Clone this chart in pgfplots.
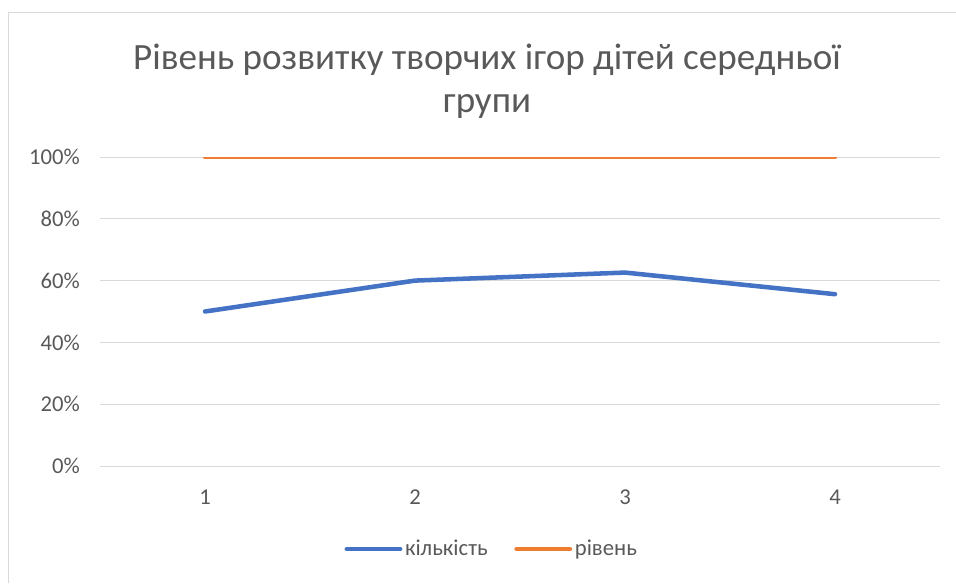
\documentclass[border=0pt]{standalone}
\usepackage{fontspec}
\setmainfont{Carlito}
\usepackage{pgfplots}
\pgfplotsset{compat=1.18}
\definecolor{cblue}{HTML}{4472C4}
\definecolor{corange}{HTML}{ED7D31}
\definecolor{cgrid}{HTML}{D9D9D9}
\definecolor{ctext}{HTML}{595959}
\begin{document}
\begin{tikzpicture}
\useasboundingbox (0,0) rectangle (717pt,437.25pt);
\draw[cgrid, line width=0.75pt] (6pt,0) -- (6pt,427.5pt) -- (717pt,427.5pt);
\node[align=center, font=\fontsize{27.8pt}{32pt}\selectfont, text=ctext, inner sep=0pt] at (365.25pt,376.1pt)
  {Рівень розвитку творчих ігор дітей середньої\\групи};
\begin{axis}[
  at={(75pt,87.75pt)}, anchor=south west,
  scale only axis, width=630pt, height=231.75pt,
  xmin=0.5, xmax=4.5, ymin=0, ymax=100,
  axis line style={draw=none},
  xtick={1,2,3,4}, xticklabels={1,2,3,4},
  ytick={0,20,40,60,80,100}, yticklabels={0\%,20\%,40\%,60\%,80\%,100\%},
  major tick length=0pt,
  ymajorgrids, grid style={cgrid, line width=0.75pt},
  tick label style={font=\fontsize{17pt}{20pt}\selectfont, text=ctext},
  yticklabel style={anchor=east, inner sep=0pt, xshift=-15pt},
  xticklabel style={anchor=north, inner sep=0pt, yshift=-18pt},
  legend columns=2,
  legend style={at={(0.4667,-0.2686)}, anchor=center, draw=none, fill=none,
    font=\fontsize{17pt}{20pt}\selectfont, text=ctext,
    /tikz/every even column/.append style={column sep=18pt}},
  legend image code/.code={\draw[#1, line cap=round] (0pt,0pt) -- (40pt,0pt);},
]
\addplot[cblue, line width=3.4pt, line cap=round, line join=round] coordinates {(1,50) (2,60) (3,62.6) (4,55.6)};
\addlegendentry{кількість}
\addplot[corange, line width=3.4pt, line cap=round, line join=round] coordinates {(1,100) (2,100) (3,100) (4,100)};
\addlegendentry{рівень}
\end{axis}
\end{tikzpicture}
\end{document}
